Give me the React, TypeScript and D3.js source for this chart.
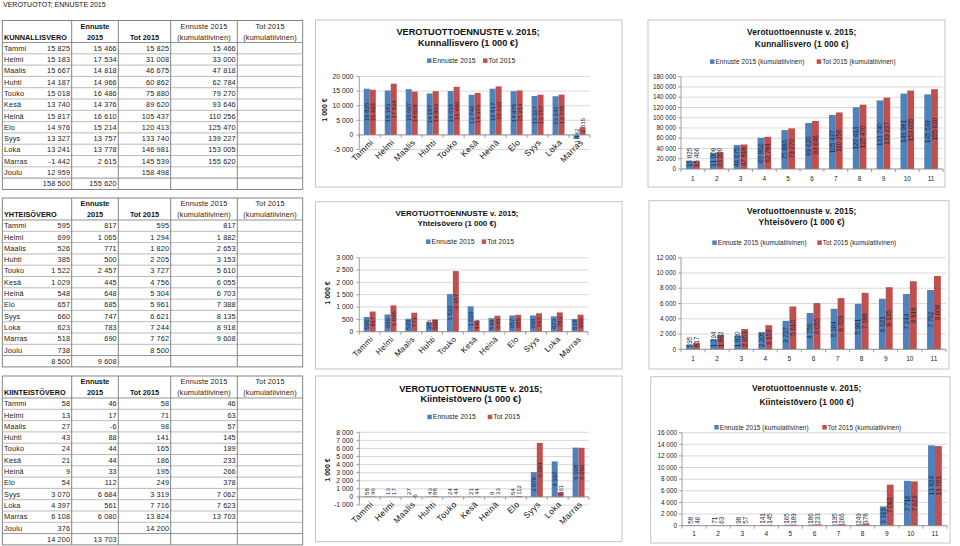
import React from "react";
import * as d3 from "d3";

const FONT = '"Liberation Sans", Arial, Helvetica, sans-serif';

const months = ["Tammi", "Helmi", "Maalis", "Huhti", "Touko", "Kesä", "Heinä", "Elo", "Syys", "Loka", "Marras", "Joulu"];
const monthNums = ["1", "2", "3", "4", "5", "6", "7", "8", "9", "10", "11"];

// Kunnallisvero
const kEnn = [15825, 15183, 15667, 14187, 15018, 13740, 15817, 14976, 13327, 13241, -1442, 12959];
const kTot = [15466, 17534, 14818, 14966, 16486, 14376, 16610, 15214, 13757, 13778, 2615];
const kEnnKum = [15825, 31008, 46675, 60862, 75880, 89620, 105437, 120413, 133740, 146981, 145539, 158498];
const kTotKum = [15466, 33000, 47818, 62784, 79270, 93646, 110256, 125470, 139227, 153005, 155620];
const kTotals = [158500, 155620];

// Yhteisövero
const yEnn = [595, 699, 526, 385, 1522, 1029, 548, 657, 660, 623, 518, 738];
const yTot = [817, 1065, 771, 500, 2457, 445, 648, 685, 747, 783, 690];
const yEnnKum = [595, 1294, 1820, 2205, 3727, 4756, 5304, 5961, 6621, 7244, 7762, 8500];
const yTotKum = [817, 1882, 2653, 3153, 5610, 6055, 6703, 7388, 8135, 8918, 9608];
const yTotals = [8500, 9608];

// Kiinteistövero
const kiEnn = [58, 13, 27, 43, 24, 21, 9, 54, 3070, 4397, 6108, 376];
const kiTot = [46, 17, -6, 88, 44, 44, 33, 112, 6684, 561, 6080];
const kiEnnKum = [58, 71, 98, 141, 165, 186, 195, 249, 3319, 7716, 13824, 14200];
const kiTotKum = [46, 63, 57, 145, 189, 233, 266, 378, 7062, 7623, 13703];
const kiTotals = [14200, 13703];

const BLUE = "#4F81BD";
const RED = "#C0504D";

const locale = d3.formatLocale({ decimal: ",", thousands: " ", grouping: [3], currency: ["", ""], minus: "-" });
const fmt = locale.format(",d");

function textLen(s: string, fs: number) {
  let w = 0;
  for (const ch of s) {
    if (ch === " ") w += 0.278;
    else if (ch === "-") w += 0.333;
    else w += 0.556;
  }
  return w * fs;
}

const colX = [2.3, 71.7, 118.3, 170.7, 237.3, 302.7];

function Table(props: any) {
  const { y0, name, enn, tot, ennKum, totKum, totals } = props;
  const hh = 22;
  const rh = 11.3;
  const fs = 7.3;
  const ls = 0.15;
  const bottom = y0 + hh + rh * 13;
  const rows = d3.range(13);
  const cell = (v: number | undefined, col: number, i: number) =>
    v === undefined ? null : (
      <text key={`${col}-${i}`} x={colX[col + 1] - 1.5} y={y0 + hh + rh * (i + 0.5)} dy="0.35em" textAnchor="end" fontSize={fs} letterSpacing={ls} fill="#222">{fmt(v)}</text>
    );
  return (
    <g fontFamily={FONT}>
      <rect x={colX[0]} y={y0} width={colX[5] - colX[0]} height={bottom - y0} fill="none" stroke="#777" strokeWidth={0.9} />
      {rows.map((i) => (
        <line key={"h" + i} x1={colX[0]} x2={colX[5]} y1={y0 + hh + rh * i} y2={y0 + hh + rh * i} stroke={i === 0 || i === 12 ? "#777" : "#aaa"} strokeWidth={0.8} />
      ))}
      {colX.slice(1, 5).map((x, j) => (
        <line key={"v" + j} x1={x} x2={x} y1={y0} y2={bottom} stroke="#777" strokeWidth={0.9} />
      ))}
      <text x={4} y={y0 + 16.5} dy="0.35em" fontSize={fs} fontWeight="bold" fill="#111">{name}</text>
      <text x={(colX[1] + colX[2]) / 2} y={y0 + 5.5} dy="0.35em" textAnchor="middle" fontSize={fs} fontWeight="bold" fill="#111">Ennuste</text>
      <text x={(colX[1] + colX[2]) / 2} y={y0 + 16.5} dy="0.35em" textAnchor="middle" fontSize={fs} fontWeight="bold" fill="#111">2015</text>
      <text x={(colX[2] + colX[3]) / 2} y={y0 + 16.5} dy="0.35em" textAnchor="middle" fontSize={fs} fontWeight="bold" fill="#111">Tot 2015</text>
      <text x={(colX[3] + colX[4]) / 2} y={y0 + 5.5} dy="0.35em" textAnchor="middle" fontSize={fs} letterSpacing={ls} fill="#222">Ennuste 2015</text>
      <text x={(colX[3] + colX[4]) / 2} y={y0 + 16.5} dy="0.35em" textAnchor="middle" fontSize={fs} letterSpacing={ls} fill="#222">(kumulatiivinen)</text>
      <text x={(colX[4] + colX[5]) / 2} y={y0 + 5.5} dy="0.35em" textAnchor="middle" fontSize={fs} letterSpacing={ls} fill="#222">Tot 2015</text>
      <text x={(colX[4] + colX[5]) / 2} y={y0 + 16.5} dy="0.35em" textAnchor="middle" fontSize={fs} letterSpacing={ls} fill="#222">(kumulatiivinen)</text>
      {months.map((m, i) => (
        <text key={"m" + i} x={4} y={y0 + hh + rh * (i + 0.5)} dy="0.35em" fontSize={fs} letterSpacing={ls} fill="#222">{m}</text>
      ))}
      {months.map((m, i) => cell(enn[i], 0, i))}
      {months.map((m, i) => cell(tot[i], 1, i))}
      {months.map((m, i) => cell(ennKum[i], 2, i))}
      {months.map((m, i) => cell(totKum[i], 3, i))}
      {cell(totals[0], 0, 12)}
      {cell(totals[1], 1, 12)}
    </g>
  );
}

function Chart(c: any) {
  const y = d3.scaleLinear().domain(c.yDomain).range([c.yBottom, c.yTop]);
  const x = d3.scaleBand().domain(c.cats).range([c.x0, c.x1]).paddingInner(0).paddingOuter(0);
  const inner = d3.scaleBand().domain(["a", "b"]).range([0, x.bandwidth()]).paddingInner(0).paddingOuter(0.75);
  const bw = inner.bandwidth();
  const y0 = y(0);
  const ticks = d3.range(c.yDomain[0], c.yDomain[1] + c.step / 2, c.step);
  const series = [
    { key: "a", vals: c.s1, color: BLUE },
    { key: "b", vals: c.s2, color: RED },
  ];
  const lfs = c.labelFont;
  return (
    <g fontFamily={FONT}>
      <rect x={c.box[0]} y={c.box[1]} width={c.box[2] - c.box[0]} height={c.box[3] - c.box[1]} fill="#fff" stroke="#c4c4c4" strokeWidth={1} />
      {c.title.map((t: string, i: number) => (
        <text key={"t" + i} x={c.titleX} y={c.titleY[i]} dy="0.35em" textAnchor="middle" fontSize={c.titleSize} fontWeight="bold" letterSpacing={c.titleLs} fill="#111">{t}</text>
      ))}
      {c.legend.map((l: string, i: number) => (
        <g key={"l" + i}>
          <rect x={c.legendX[i]} y={c.legendY - 2.3} width={4.5} height={4.5} fill={i === 0 ? BLUE : RED} />
          <text x={c.legendX[i] + 5.5} y={c.legendY} dy="0.35em" fontSize={c.legendSize} letterSpacing={0.1} fill="#222">{l}</text>
        </g>
      ))}
      {ticks.map((t: number) => (
        <g key={"g" + t}>
          <line x1={c.x0} x2={c.x1} y1={y(t)} y2={y(t)} stroke="#d0d0d0" strokeWidth={0.8} />
          <line x1={c.x0 - 3} x2={c.x0} y1={y(t)} y2={y(t)} stroke="#888" strokeWidth={0.8} />
          <text x={c.x0 - c.tickGap} y={y(t)} dy="0.35em" textAnchor="end" fontSize={c.tickFont} fill="#222">{fmt(t)}</text>
        </g>
      ))}
      {series.map((s) =>
        s.vals.map((v: number, i: number) => {
          const cat = c.cats[i];
          const bx = (x(cat) as number) + (inner(s.key) as number);
          const yv = y(v);
          return <rect key={s.key + i} x={bx} y={Math.min(yv, y0)} width={bw} height={Math.abs(yv - y0)} fill={s.color} />;
        })
      )}
      <line x1={c.x0} x2={c.x0} y1={c.yTop} y2={c.yBottom} stroke="#888" strokeWidth={0.8} />
      <line x1={c.x0} x2={c.x1} y1={y0} y2={y0} stroke="#888" strokeWidth={0.8} />
      {d3.range(c.cats.length + 1).map((i) => {
        const xx = c.x0 + i * x.bandwidth();
        return <line key={"xt" + i} x1={xx} x2={xx} y1={y0} y2={y0 + 3} stroke="#888" strokeWidth={0.8} />;
      })}
      {series.map((s) =>
        s.vals.map((v: number, i: number) => {
          const cat = c.cats[i];
          const cx = (x(cat) as number) + (inner(s.key) as number) + bw / 2;
          const label = fmt(v);
          const len = textLen(label, lfs);
          let cy = (y(v) + y0) / 2;
          if (v >= 0 && cy + len / 2 > y0 - 2) cy = y0 - 2 - len / 2;
          return (
            <text key={"dl" + s.key + i} transform={`translate(${cx},${cy}) rotate(-90)`} dy="0.35em" textAnchor="middle" fontSize={lfs} fill="#1c2740">{label}</text>
          );
        })
      )}
      {c.rotLabels
        ? c.cats.map((cat: string) => {
            const cx = (x(cat) as number) + x.bandwidth() / 2;
            return (
              <text key={"xl" + cat} transform={`translate(${cx + 2},${y0 + 6}) rotate(-45)`} dy="0.35em" textAnchor="end" fontSize={c.catFont} letterSpacing={0.3} fill="#111">{cat}</text>
            );
          })
        : c.cats.map((cat: string) => {
            const cx = (x(cat) as number) + x.bandwidth() / 2;
            return (
              <text key={"xl" + cat} x={cx} y={c.catY} dy="0.35em" textAnchor="middle" fontSize={c.catFont} fill="#222">{cat}</text>
            );
          })}
      {c.yTitle ? (
        <text transform={`translate(${c.yTitleX},${c.yTitleY}) rotate(-90)`} dy="0.35em" textAnchor="middle" fontSize={7} fontWeight="bold" fill="#111">{c.yTitle}</text>
      ) : null}
    </g>
  );
}

const cats11 = months.slice(0, 11);

const leftBase = { cats: cats11, rotLabels: true, catFont: 8.5, tickFont: 6.8, tickGap: 6, labelFont: 6, legendSize: 6.8, legend: ["Ennuste 2015", "Tot 2015"], yTitle: "1 000 €", titleLs: 0 };
const rightBase = { cats: monthNums, rotLabels: false, catFont: 6.5, tickFont: 6.4, tickGap: 5, labelFont: 6.3, legendSize: 6.4, legend: ["Ennuste 2015 (kumulatiivinen)", "Tot 2015 (kumulatiivinen)"], titleLs: 0.15, titleSize: 8.3 };

export default function App() {
  return (
    <svg width={960} height={546} style={{ position: "absolute", left: 0, top: 0, background: "#fff" }}>
      <rect x={0} y={0} width={960} height={546} fill="#fff" />
      <text x={3} y={5} dy="0.35em" fontFamily={FONT} fontSize={7} fill="#111">VEROTUOTOT; ENNUSTE 2015</text>
      <Table y0={20.5} name="KUNNALLISVERO" enn={kEnn} tot={kTot} ennKum={kEnnKum} totKum={kTotKum} totals={kTotals} />
      <Table y0={198} name="YHTEISÖVERO" enn={yEnn} tot={yTot} ennKum={yEnnKum} totKum={yTotKum} totals={yTotals} />
      <Table y0={376} name="KIINTEISTÖVERO" enn={kiEnn} tot={kiTot} ennKum={kiEnnKum} totKum={kiTotKum} totals={kiTotals} />

      <Chart {...leftBase} box={[315.5, 20, 622, 187]} title={["VEROTUOTTOENNUSTE v. 2015;", "Kunnallisvero (1 000 €)"]} titleX={468} titleY={[31.7, 43]} titleSize={9.2}
        legendY={60.7} legendX={[427, 483]} yDomain={[-5000, 20000]} step={5000} yTop={76.5} yBottom={149.5} x0={359.3} x1={590}
        s1={kEnn.slice(0, 11)} s2={kTot} yTitleX={325} yTitleY={110} />
      <Chart {...leftBase} box={[315.5, 201.7, 622, 369]} title={["VEROTUOTTOENNUSTE v. 2015;", "Yhteisövero (1 000 €)"]} titleX={457} titleY={[213.3, 223.3]} titleSize={7.9}
        legendY={241.7} legendX={[426, 481.7]} yDomain={[0, 3000]} step={500} yTop={257.7} yBottom={331.7} x0={359.3} x1={588}
        s1={yEnn.slice(0, 11)} s2={yTot} yTitleX={328} yTitleY={293} catFont={8} />
      <Chart {...leftBase} box={[315.5, 376, 622, 541.7]} title={["VEROTUOTTOENNUSTE v. 2015;", "Kiinteistövero (1 000 €)"]} titleX={470.7} titleY={[388.3, 398.8]} titleSize={9.2}
        legendY={417} legendX={[427.3, 487.7]} yDomain={[-1000, 8000]} step={1000} yTop={432.3} yBottom={505} x0={359.3} x1={589}
        s1={kiEnn.slice(0, 11)} s2={kiTot} yTitleX={328} yTitleY={470} />

      <Chart {...rightBase} box={[648, 20, 945, 187]} title={["Verotuottoennuste v. 2015;", "Kunnallisvero (1 000 €)"]} titleX={801.7} titleY={[31.7, 44.3]}
        legendY={61.7} legendX={[710, 816.7]} yDomain={[0, 180000]} step={20000} yTop={76.7} yBottom={169} x0={681} x1={943}
        s1={kEnnKum.slice(0, 11)} s2={kTotKum} catY={179} />
      <Chart {...rightBase} box={[649, 200.7, 949, 369]} title={["Verotuottoennuste v. 2015;", "Yhteisövero (1 000 €)"]} titleX={801.7} titleY={[210.7, 222.3]}
        legendY={242.7} legendX={[712.3, 817.3]} yDomain={[0, 12000]} step={2000} yTop={257.7} yBottom={349.3} x0={681} x1={946}
        s1={yEnnKum.slice(0, 11)} s2={yTotKum} catY={358.3} />
      <Chart {...rightBase} box={[650.7, 376.7, 950, 543]} title={["Verotuottoennuste v. 2015;", "Kiinteistövero (1 000 €)"]} titleX={806.7} titleY={[388.3, 402.3]}
        legendY={427.3} legendX={[714.3, 822.3]} yDomain={[0, 16000]} step={2000} yTop={432.7} yBottom={525.7} x0={682} x1={947}
        s1={kiEnnKum.slice(0, 11)} s2={kiTotKum} catY={534} />
    </svg>
  );
}
